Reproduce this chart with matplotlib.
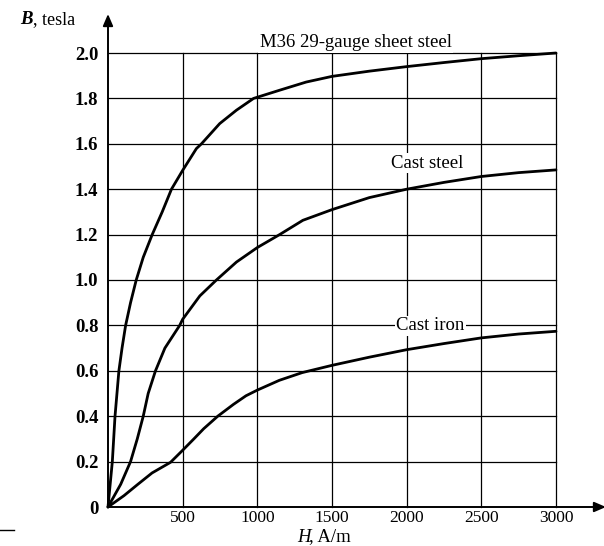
import matplotlib
matplotlib.use("Agg")
import matplotlib.pyplot as plt
from matplotlib.lines import Line2D

# values (H in A/m, B in tesla)
m36_h = [0, 29, 47, 73, 94, 118, 151, 189, 236, 296, 363, 425, 500, 592, 626, 748, 860,
         975, 1149, 1327, 1500, 1750, 2000, 2250, 2500, 2750, 3000]
m36_b = [0, 0.2, 0.4, 0.6, 0.7, 0.8, 0.9, 1.0, 1.1, 1.2, 1.3, 1.4, 1.483, 1.579, 1.6, 1.689, 1.748,
         1.8, 1.836, 1.872, 1.897, 1.92, 1.94, 1.958, 1.975, 1.988, 2.0]

steel_h = [0, 85, 151, 196, 236, 269, 318, 381, 480, 500, 615, 726, 860, 1000, 1149, 1305,
           1500, 1750, 2000, 2250, 2500, 2750, 3000]
steel_b = [0, 0.1, 0.2, 0.3, 0.4, 0.5, 0.6, 0.7, 0.8, 0.827, 0.93, 1.0, 1.079, 1.143, 1.2, 1.263,
           1.31, 1.363, 1.40, 1.43, 1.456, 1.473, 1.485]

iron_h = [0, 107, 200, 295, 419, 500, 575, 641, 735, 840, 924, 1000, 1147, 1300, 1500, 1750,
          2000, 2250, 2500, 2750, 3000]
iron_b = [0, 0.05, 0.1, 0.15, 0.197, 0.25, 0.3, 0.345, 0.4, 0.452, 0.49, 0.515, 0.558, 0.592, 0.624, 0.66,
          0.693, 0.72, 0.745, 0.762, 0.774]

x_ticks = [500, 1000, 1500, 2000, 2500, 3000]
y_ticks = [0, 0.2, 0.4, 0.6, 0.8, 1.0, 1.2, 1.4, 1.6, 1.8, 2.0]
y_tick_labels = ["0", "0.2", "0.4", "0.6", "0.8", "1.0", "1.2", "1.4", "1.6", "1.8", "2.0"]

plt.rcParams["font.family"] = ["Liberation Serif", "DejaVu Serif"]

W, H = 604, 546
fig = plt.figure(figsize=(W / 100, H / 100), dpi=100)
x0, x1 = 108, 556
y0, y1 = 507, 53
ax = fig.add_axes([x0 / W, (H - y0) / H, (x1 - x0) / W, (y0 - y1) / H])

ax.set_xlim(0, 3000)
ax.set_ylim(0, 2.0)

# grid, including the top and right border lines
for xv in x_ticks:
    ax.axvline(xv, color="black", lw=0.9, zorder=1, clip_on=False)
for yv in y_ticks[1:]:
    ax.axhline(yv, color="black", lw=0.9, zorder=1, clip_on=False)

for s in ax.spines.values():
    s.set_visible(False)

lw = 2.0
for hs, bs in [(m36_h, m36_b), (steel_h, steel_b), (iron_h, iron_b)]:
    ax.plot(hs, bs, color="black", lw=lw, solid_joinstyle="round",
            solid_capstyle="round", zorder=3, clip_on=False)

fs = 13.5
box = dict(facecolor="white", edgecolor="none", pad=1)
ax.text(1658, 2.025, "M36 29-gauge sheet steel", ha="center", va="baseline",
        fontsize=fs, bbox=box, zorder=4)
ax.text(2137, 1.495, "Cast steel", ha="center", va="baseline",
        fontsize=fs, bbox=box, zorder=4)
ax.text(2160, 0.778, "Cast iron", ha="center", va="baseline",
        fontsize=fs, bbox=box, zorder=4)

ax.set_xticks(x_ticks)
ax.set_xticklabels([str(v) for v in x_ticks], fontsize=12.5)
ax.set_yticks(y_ticks)
ax.set_yticklabels(y_tick_labels, fontsize=fs, fontweight="bold")
ax.tick_params(axis="both", length=0)
ax.tick_params(axis="x", pad=2.5)
ax.tick_params(axis="y", pad=7)

# x axis label: italic H, then ", A/m"
fig.text(297 / W, 1 - 537 / H, "H", fontsize=fs, fontstyle="italic", va="center", ha="left")
fig.text(309 / W, 1 - 537 / H, ", A/m", fontsize=fs, va="center", ha="left")

# y axis label: bold italic B, then ", tesla"
fig.text(20 / W, 1 - 20 / H, "B", fontsize=fs, fontstyle="italic", fontweight="bold",
         va="center", ha="left")
fig.text(33 / W, 1 - 20 / H, ", tesla", fontsize=fs - 0.5, va="center", ha="left")

# axes with arrows
arrow = dict(arrowstyle="-|>,head_length=0.7,head_width=0.3",
             color="black", lw=1.4, shrinkA=0, shrinkB=0)
ax.annotate("", xy=((W - x0 + 2) / (x1 - x0), 0), xytext=(0, 0),
            xycoords="axes fraction", textcoords="axes fraction",
            arrowprops=arrow, annotation_clip=False)
ax.annotate("", xy=(0, (y0 - 14) / (y0 - y1)), xytext=(0, 0),
            xycoords="axes fraction", textcoords="axes fraction",
            arrowprops=arrow, annotation_clip=False)

# stray mark at bottom left of the scan
fig.add_artist(Line2D([0, 14 / W], [1 - 530 / H, 1 - 530 / H], color="black", lw=1.0))

fig.savefig("out.png", dpi=100)
